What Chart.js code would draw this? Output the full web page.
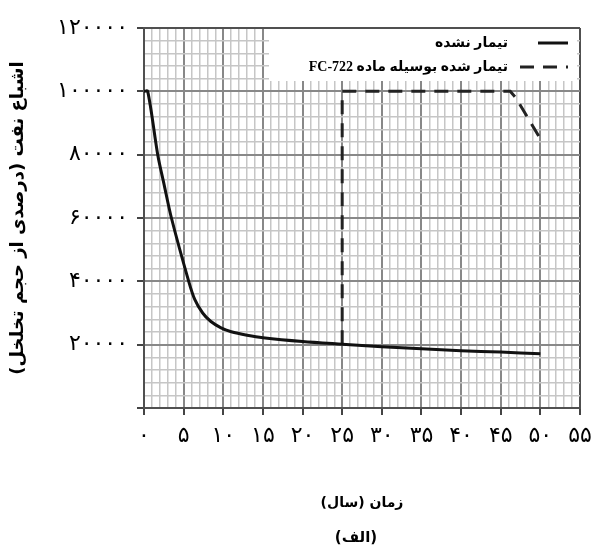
<!DOCTYPE html>
<html lang="fa">
<head>
<meta charset="utf-8">
<script src="https://cdn.jsdelivr.net/npm/chart.js@4.4.1/dist/chart.umd.min.js"></script>
<style>
  html, body { margin: 0; padding: 0; background: #fff; }
  #chart { display: block; }
</style>
</head>
<body>
<canvas id="chart" width="594" height="549"></canvas>
<script>
/* داده‌ها */
const untreatedX = [0, 0.47, 1.73, 2.55, 3.46, 5.64, 6.4, 7.4, 8.4, 9.72, 11, 13, 15, 20, 25, 30, 35, 40, 45, 50];
const untreatedY = [100000, 100000, 80000, 70400, 60000, 40000, 34300, 30000, 27400, 25300, 24100, 23000, 22200, 21000, 20150, 19350, 18700, 18100, 17650, 17100];
const treatedX = [25, 25, 46.2, 46.9, 50];
const treatedY = [20150, 100000, 100000, 98000, 85000];

const seriesNames = ['تیمار نشده', 'تیمار شده بوسیله ماده FC-722'];

const xTickValues = [0, 5, 10, 15, 20, 25, 30, 35, 40, 45, 50, 55];
const xTickLabels = ['۰', '۵', '۱۰', '۱۵', '۲۰', '۲۵', '۳۰', '۳۵', '۴۰', '۴۵', '۵۰', '۵۵'];
const yTickValues = [20000, 40000, 60000, 80000, 100000, 120000];
const yTickLabels = ['۲۰۰۰۰', '۴۰۰۰۰', '۶۰۰۰۰', '۸۰۰۰۰', '۱۰۰۰۰۰', '۱۲۰۰۰۰'];

const xTitle = 'زمان (سال)';
const yTitle = 'اشباع نفت (درصدی از حجم تخلخل)';
const caption = '(الف)';

const toPoints = (xs, ys) => xs.map((x, i) => ({ x: x, y: ys[i] }));

// major / minor grid colours
function gridColor(majorStep, maxValue) {
  return (ctx) => {
    const v = ctx.tick.value;
    if (v === maxValue) return '#505050';
    return v % majorStep === 0 ? '#888' : '#c6c6c6';
  };
}
function gridWidth(majorStep) {
  return (ctx) => (ctx.tick.value % majorStep === 0 ? 2 : 1.5);
}
function tickColor(majorStep) {
  return (ctx) => (ctx.tick.value % majorStep === 0 ? '#444' : 'rgba(0,0,0,0)');
}

/* legend inside the plot */
const legendBox = {
  id: 'legendBox',
  afterDatasetsDraw(chart) {
    const { ctx, chartArea } = chart;
    const boxLeft = chartArea.right - 311;
    ctx.save();
    ctx.fillStyle = '#fff';
    ctx.fillRect(boxLeft, chartArea.top + 1, 308, 52);
    chart.data.datasets.forEach((ds, i) => {
      const y = chartArea.top + 15 + i * 24;
      const sampleRight = chartArea.right - 12;
      const sampleLen = ds.borderDash.length ? 48 : 30;
      ctx.strokeStyle = ds.borderColor;
      ctx.lineWidth = 3;
      ctx.setLineDash(ds.borderDash);
      ctx.beginPath();
      ctx.moveTo(sampleRight - sampleLen, y);
      ctx.lineTo(sampleRight, y);
      ctx.stroke();
      ctx.setLineDash([]);
      ctx.fillStyle = '#000';
      ctx.font = "bold 14px 'Liberation Serif', 'DejaVu Sans'";
      ctx.direction = 'rtl';
      ctx.textAlign = 'right';
      ctx.textBaseline = 'middle';
      ctx.fillText(ds.label, sampleRight - 60, y);
    });
    ctx.restore();
  }
};

/* caption under the x title */
const captionText = {
  id: 'captionText',
  afterDraw(chart) {
    const { ctx, chartArea } = chart;
    ctx.save();
    ctx.fillStyle = '#000';
    ctx.font = "bold 15px 'DejaVu Sans'";
    ctx.direction = 'rtl';
    ctx.textAlign = 'center';
    ctx.textBaseline = 'middle';
    ctx.fillText(caption, (chartArea.left + chartArea.right) / 2 - 6, 538);
    ctx.restore();
  }
};

const chartElement = document.getElementById('chart');

new Chart(chartElement, {
  type: 'line',
  data: {
    datasets: [{
      label: seriesNames[0],
      data: toPoints(untreatedX, untreatedY),
      borderColor: '#111',
      borderWidth: 3,
      borderDash: [],
      pointRadius: 0,
      tension: 0.3,
      fill: false
    }, {
      label: seriesNames[1],
      data: toPoints(treatedX, treatedY),
      borderColor: '#222',
      borderWidth: 3,
      borderDash: [14, 9],
      pointRadius: 0,
      tension: 0,
      fill: false
    }]
  },
  options: {
    responsive: false,
    animation: false,
    devicePixelRatio: 1,
    layout: { padding: { top: 28, right: 14, bottom: 0, left: 0 } },
    plugins: {
      legend: { display: false },
      tooltip: { enabled: false }
    },
    scales: {
      x: {
        type: 'linear',
        min: 0,
        max: 55,
        afterFit: (scale) => {
          scale.height = 141;
          scale.paddingLeft = 0;
          scale.paddingRight = 0;
        },
        border: { color: '#505050', width: 2 },
        grid: {
          color: gridColor(5, 55),
          lineWidth: gridWidth(5),
          tickColor: tickColor(5),
          tickLength: 7,
          tickWidth: 2
        },
        ticks: {
          stepSize: 1,
          autoSkip: false,
          maxRotation: 0,
          minRotation: 0,
          padding: 8,
          color: '#000',
          font: { family: "'DejaVu Sans'", size: 22 },
          callback: (v) => {
            const i = xTickValues.indexOf(v);
            return i >= 0 ? xTickLabels[i] : '';
          }
        },
        title: {
          display: true,
          text: xTitle,
          color: '#000',
          font: { family: "'DejaVu Sans'", size: 14, weight: 'bold' },
          padding: { top: 0, bottom: 37 }
        }
      },
      y: {
        min: 0,
        max: 120000,
        afterFit: (scale) => { scale.width = 144; },
        border: { color: '#505050', width: 2 },
        grid: {
          color: gridColor(20000, 120000),
          lineWidth: gridWidth(20000),
          tickColor: tickColor(20000),
          tickLength: 7,
          tickWidth: 2
        },
        ticks: {
          stepSize: 4000,
          autoSkip: false,
          padding: 9,
          color: '#000',
          font: { family: "'DejaVu Sans'", size: 22 },
          callback: (v) => {
            const i = yTickValues.indexOf(v);
            return i >= 0 ? yTickLabels[i] : '';
          }
        },
        title: {
          display: true,
          text: yTitle,
          color: '#000',
          font: { family: "'DejaVu Sans'", size: 18, weight: 'bold' },
          padding: { top: 8, bottom: 0 }
        }
      }
    }
  },
  plugins: [legendBox, captionText]
});
</script>
</body>
</html>
